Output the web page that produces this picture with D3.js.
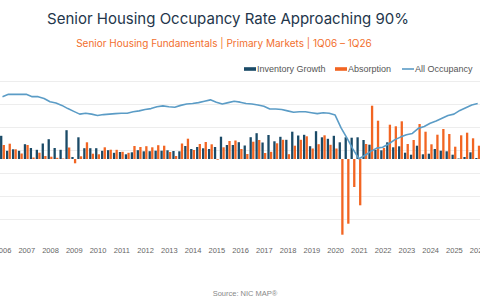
<!DOCTYPE html>
<html>
<head>
<meta charset="utf-8">
<script src="https://cdn.jsdelivr.net/npm/d3@7"></script>
<style>
	body { margin: 0; background: #fff; }
	svg { display: block; font-family: 'Liberation Sans', Arial, sans-serif; }
</style>
</head>
<body>
<svg id="chart" width="480" height="300"></svg>
<script>
var years = [2006, 2007, 2008, 2009, 2010, 2011, 2012, 2013, 2014, 2015, 2016,
	2017, 2018, 2019, 2020, 2021, 2022, 2023, 2024, 2025, 2026];

// units per quarter, 1Q06 - 1Q26 (one line per year)
var inventoryGrowth = [
	4640, 1640, 1940, 1640,
	2960, 2200, 1840, 3100,
	3960, 2200, 1840, 5760,
	400, 4340, 2160, 2160,
	2160, 1640, 1760, 1240,
	1400, 940, 1340, 1760,
	1540, 1560, 1660, 1660,
	1740, 1600, 1540, 2600,
	2000, 2400, 2140, 2000,
	2400, 4460, 2800, 2800,
	3360, 2700, 4360, 5160,
	3300, 4800, 3540, 4440,
	3840, 5460, 4700, 4840,
	2560, 5560, 4340, 4040,
	4640, 3340, 4340, 4260,
	4340, 3800, 2860, 1860,
	1740, 3340, 2340, 2540,
	1260, 860, 2660, 940,
	1060, 2000, 1660, 1540,
	860, 100, 400, 1340,
	200
];
var absorption = [
	2800, 3060, 1940, 1100,
	2800, 300, 1260, 600,
	460, 240, 100, 2300,
	-860, 540, 3340, 1060,
	940, 2340, 1860, 1840,
	1440, 1240, 2600, 2400,
	2560, 2340, 2760, 2660,
	1400, 600, 3100, 4060,
	1800, 3000, 3400, 2940,
	-140, 2340, 3600, 3700,
	2000, 1000, 3460, 3800,
	1200, 1440, 3140, 3840,
	960, 2660, 3840, 4540,
	2100, 2960, 4740, 2840,
	2100, -15140, -12940, -5600,
	-9260, 3000, 10660, 7660,
	2200, 6860, 6540, 7540,
	3000, 3800, 7000, 5460,
	2940, 4860, 6000, 5000,
	2460, 4740, 5260, 4140,
	2660
];
// percent
var allOccupancy = [
	91.6, 92.1, 92.1, 92.1,
	92.1, 91.6, 91.6, 91.2,
	90.5, 90.2, 89.7, 89.0,
	88.4, 87.8, 88.0, 87.8,
	87.5, 87.7, 87.8, 87.9,
	88.0, 88.0, 88.3, 88.5,
	88.8, 89.0, 89.4, 89.6,
	89.4, 89.3, 89.7, 90.0,
	90.1, 90.3, 90.6, 90.9,
	90.4, 90.0, 90.3, 90.6,
	90.4, 90.1, 90.0, 89.8,
	89.5, 88.9, 88.9, 88.8,
	88.5, 88.2, 88.3, 88.3,
	88.1, 87.9, 88.1, 88.0,
	87.6, 84.8, 82.6, 80.2,
	78.1, 78.8, 79.7, 80.4,
	80.6, 81.3, 82.2, 82.8,
	83.3, 83.6, 84.7, 85.1,
	85.8, 86.3, 86.9, 87.5,
	87.8, 88.6, 89.2, 89.8,
	90.1
];
var occupancyTicks = [65, 70, 75, 80, 85, 90, 95];

var seriesNames = ['Inventory Growth', 'Absorption', 'All Occupancy'];
var colors = { navy: '#1a4a67', orange: '#f26522', line: '#5b9cc6' };

var quarters = [];
years.forEach(function (yr) {
	for (var q = 1; q <= 4; q++) {
		if (yr < 2026 || q == 1) quarters.push(q + 'Q' + String(yr).slice(2));
	}
});

function drawChart() {
	var svg = d3.select('#chart');

	svg.append('text')
		.attr('x', 228).attr('y', 24)
		.attr('text-anchor', 'middle')
		.style('font-family', 'Inter, sans-serif')
		.style('font-size', '15px')
		.attr('fill', '#23364b')
		.text('Senior Housing Occupancy Rate Approaching 90%');

	svg.append('text')
		.attr('x', 224).attr('y', 47)
		.attr('text-anchor', 'middle')
		.style('font-family', 'Inter, sans-serif')
		.style('font-size', '10px')
		.attr('fill', '#f26f2e')
		.text('Senior Housing Fundamentals | Primary Markets | 1Q06 \u2013 1Q26');

	var x = d3.scaleLinear().domain([0, quarters.length - 1]).range([2.5, 477.7]);
	var yOcc = d3.scaleLinear().domain([65, 95]).range([219, 81]);
	var yBar = d3.scaleLinear().domain([-12000, 15600]).range([219, 81]);

	// gridlines (axis labels sit off the left edge in the original, so none here)
	var grid = svg.append('g')
		.call(d3.axisLeft(yOcc).tickValues(occupancyTicks).tickSize(-480).tickFormat(''));
	grid.select('.domain').remove();
	grid.selectAll('line').attr('stroke', '#ededed');

	var bw = 2.3;
	svg.append('g').selectAll('rect')
		.data(inventoryGrowth)
		.join('rect')
		.attr('x', function (d, i) { return x(i) - bw - 0.15; })
		.attr('y', function (d) { return Math.min(yBar(d), yBar(0)); })
		.attr('width', bw)
		.attr('height', function (d) { return Math.abs(yBar(d) - yBar(0)); })
		.attr('fill', colors.navy);

	svg.append('g').selectAll('rect')
		.data(absorption)
		.join('rect')
		.attr('x', function (d, i) { return x(i) + 0.15; })
		.attr('y', function (d) { return Math.min(yBar(d), yBar(0)); })
		.attr('width', bw)
		.attr('height', function (d) { return Math.abs(yBar(d) - yBar(0)); })
		.attr('fill', colors.orange);

	var line = d3.line()
		.x(function (d, i) { return x(i); })
		.y(function (d) { return yOcc(d); });

	svg.append('path')
		.datum(allOccupancy)
		.attr('d', line)
		.attr('fill', 'none')
		.attr('stroke', colors.line)
		.attr('stroke-width', 1.6)
		.attr('stroke-linejoin', 'round');

	var xAxis = svg.append('g')
		.attr('transform', 'translate(0,244)')
		.call(d3.axisBottom(x)
			.tickValues(d3.range(0, quarters.length, 4))
			.tickSize(0)
			.tickPadding(4)
			.tickFormat(function (i) { return years[i / 4]; }));
	xAxis.select('.domain').remove();
	xAxis.selectAll('text')
		.style('font-family', "'Liberation Sans', Arial, sans-serif")
		.style('font-size', '7.5px')
		.attr('fill', '#666');

	// legend
	var legendX = [244, 335, 402];
	var legendColors = [colors.navy, colors.orange, colors.line];
	var legend = svg.append('g').selectAll('g')
		.data(seriesNames)
		.join('g')
		.attr('transform', function (d, i) { return 'translate(' + legendX[i] + ',69)'; });
	legend.append('rect')
		.attr('x', 0)
		.attr('y', function (d, i) { return i == 2 ? -0.8 : -1.8; })
		.attr('width', 12)
		.attr('height', function (d, i) { return i == 2 ? 1.6 : 3.6; })
		.attr('fill', function (d, i) { return legendColors[i]; });
	legend.append('text')
		.attr('x', 13).attr('y', 3.2)
		.style('font-size', '9px')
		.attr('fill', '#555')
		.text(function (d) { return d; });

	svg.append('text')
		.attr('x', 245).attr('y', 296)
		.attr('text-anchor', 'middle')
		.style('font-size', '7.5px')
		.attr('fill', '#888')
		.text('Source: NIC MAP\u00ae');
}

drawChart();
</script>
</body>
</html>
